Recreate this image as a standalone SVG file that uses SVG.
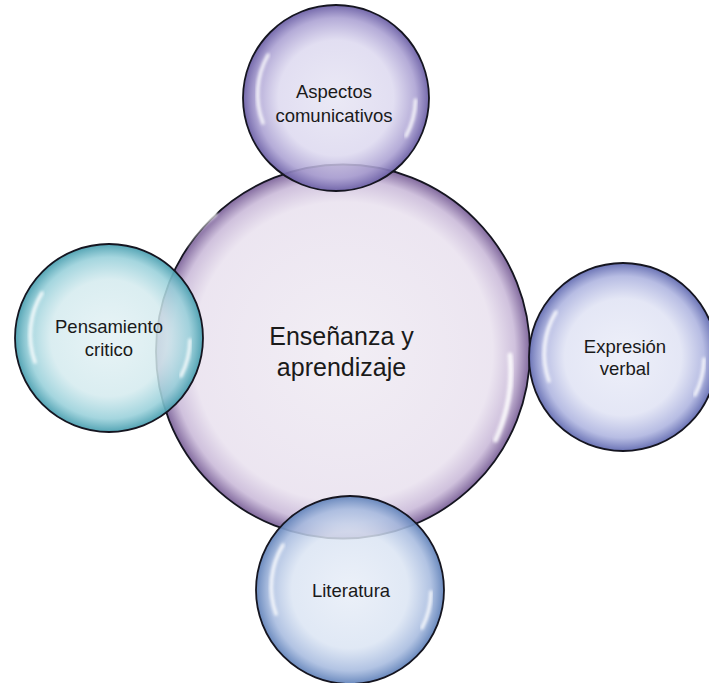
<svg xmlns="http://www.w3.org/2000/svg" width="709" height="683" viewBox="0 0 709 683">
  <defs>
    <radialGradient id="gCenter" cx="50%" cy="50%" r="50%">
      <stop offset="0" stop-color="#f1edf4" stop-opacity="0.95"/>
      <stop offset="0.8" stop-color="#ebe4f0" stop-opacity="0.95"/>
      <stop offset="0.92" stop-color="#cdbedb" stop-opacity="0.95"/>
      <stop offset="1" stop-color="#7e659b" stop-opacity="0.97"/>
    </radialGradient>
    <radialGradient id="gTop" cx="50%" cy="50%" r="50%">
      <stop offset="0" stop-color="#e6e4f3" stop-opacity="0.82"/>
      <stop offset="0.62" stop-color="#dcd8ef" stop-opacity="0.84"/>
      <stop offset="0.86" stop-color="#aaa0d2" stop-opacity="0.88"/>
      <stop offset="1" stop-color="#6c60a6" stop-opacity="0.95"/>
    </radialGradient>
    <radialGradient id="gLeft" cx="50%" cy="50%" r="50%">
      <stop offset="0" stop-color="#e3f1f4" stop-opacity="0.82"/>
      <stop offset="0.62" stop-color="#d3eaee" stop-opacity="0.84"/>
      <stop offset="0.86" stop-color="#98d0da" stop-opacity="0.88"/>
      <stop offset="1" stop-color="#4a9fb0" stop-opacity="0.95"/>
    </radialGradient>
    <radialGradient id="gRight" cx="50%" cy="50%" r="50%">
      <stop offset="0" stop-color="#ebedf8" stop-opacity="0.86"/>
      <stop offset="0.62" stop-color="#e0e3f4" stop-opacity="0.87"/>
      <stop offset="0.86" stop-color="#afb5e0" stop-opacity="0.9"/>
      <stop offset="1" stop-color="#646db2" stop-opacity="0.96"/>
    </radialGradient>
    <radialGradient id="gBottom" cx="50%" cy="50%" r="50%">
      <stop offset="0" stop-color="#e7edf7" stop-opacity="0.82"/>
      <stop offset="0.62" stop-color="#dae4f3" stop-opacity="0.84"/>
      <stop offset="0.86" stop-color="#a7bbdf" stop-opacity="0.88"/>
      <stop offset="1" stop-color="#6283ba" stop-opacity="0.95"/>
    </radialGradient>
    <filter id="soft" x="-20%" y="-20%" width="140%" height="140%">
      <feGaussianBlur stdDeviation="1.6"/>
    </filter>
  </defs>
  <style>
    .rim { stroke: #151520; stroke-width: 1.8; }
    .hl { fill: none; stroke: #ffffff; stroke-linecap: round; opacity: 0.85; filter: url(#soft); }
    .lbl { font-family: "Liberation Sans", Arial, sans-serif; font-size: 18.5px; fill: #1a1a1a; text-anchor: middle; }
    .big { font-family: "Liberation Sans", Arial, sans-serif; font-size: 25px; fill: #1a1a1a; text-anchor: middle; }
  </style>
  <rect width="709" height="683" fill="#ffffff"/>
  <g id="connectors"/>

  <g id="node-center">
    <circle cx="343" cy="351.5" r="187" fill="url(#gCenter)" class="rim"/>
    <path class="hl" stroke-width="5" d="M 185.3 244.0 A 167 167 0 0 1 215.0 214.0"/>
    <path class="hl" stroke-width="5" d="M 510.0 355.0 A 167 167 0 0 1 495.5 440.0"/>
    <text class="big" x="341.5" y="345">Enseñanza y</text>
    <text class="big" x="341.5" y="376">aprendizaje</text>
  </g>

  <g id="node-top">
    <circle cx="336" cy="98" r="93" fill="url(#gTop)" class="rim"/>
    <path class="hl" stroke-width="3.5" d="M 263.0 123.0 A 80 80 0 0 1 268.0 55.0"/>
    <path class="hl" stroke-width="3.5" d="M 415.5 100.0 A 80 80 0 0 1 406.0 136.0"/>
    <text class="lbl" x="334" y="98">Aspectos</text>
    <text class="lbl" x="334" y="122">comunicativos</text>
  </g>

  <g id="node-left">
    <circle cx="109" cy="338" r="94" fill="url(#gLeft)" class="rim"/>
    <path class="hl" stroke-width="3.5" d="M 35.0 362.0 A 81 81 0 0 1 42.0 293.0"/>
    <path class="hl" stroke-width="3.5" d="M 190.0 340.0 A 81 81 0 0 1 181.0 376.0"/>
    <text class="lbl" x="109" y="333">Pensamiento</text>
    <text class="lbl" x="109" y="356">critico</text>
  </g>

  <g id="node-right">
    <circle cx="623" cy="357" r="94" fill="url(#gRight)" class="rim"/>
    <path class="hl" stroke-width="3.5" d="M 549.0 381.0 A 81 81 0 0 1 556.0 312.0"/>
    <path class="hl" stroke-width="3.5" d="M 704.0 359.0 A 81 81 0 0 1 695.0 395.0"/>
    <text class="lbl" x="625" y="353">Expresión</text>
    <text class="lbl" x="625" y="375">verbal</text>
  </g>

  <g id="node-bottom">
    <circle cx="350" cy="590" r="94" fill="url(#gBottom)" class="rim"/>
    <path class="hl" stroke-width="3.5" d="M 276.0 614.0 A 81 81 0 0 1 283.0 545.0"/>
    <path class="hl" stroke-width="3.5" d="M 431.0 592.0 A 81 81 0 0 1 422.0 628.0"/>
    <text class="lbl" x="351" y="597">Literatura</text>
  </g>
</svg>
